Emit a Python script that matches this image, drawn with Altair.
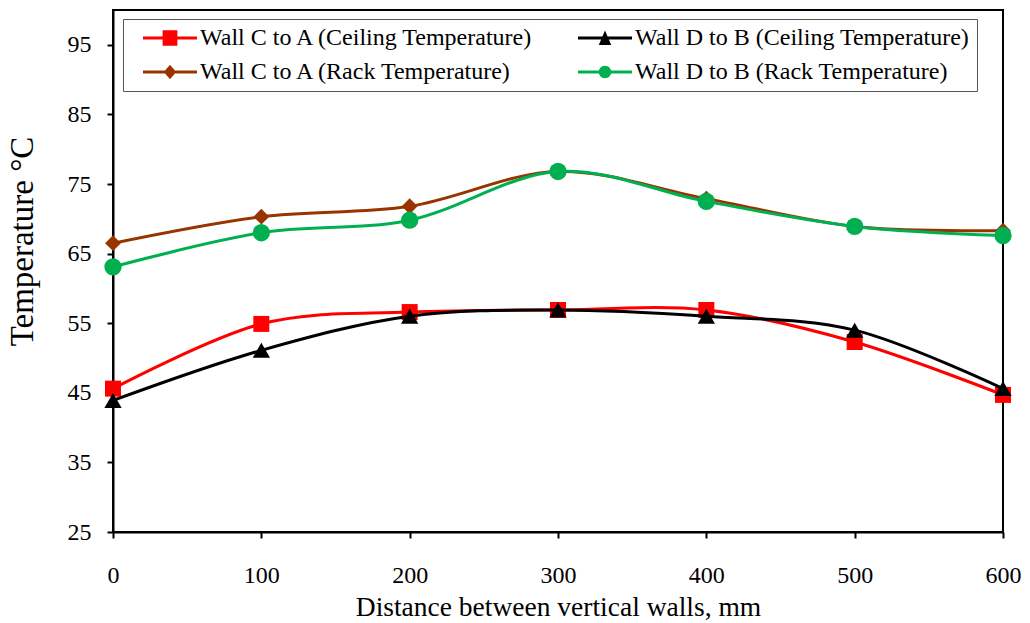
import altair as alt
import pandas as pd

# ---- data ----
distance = [0, 100, 200, 300, 400, 500, 600]
# legend fills column by column: C->A pair in column 1, D->B pair in column 2
series_names = [
    "Wall C to A (Ceiling Temperature)",
    "Wall C to A (Rack Temperature)",
    "Wall D to B (Ceiling Temperature)",
    "Wall D to B (Rack Temperature)",
]
c_to_a_ceiling = [45.6, 54.9, 56.6, 56.9, 56.9, 52.3, 44.7]
c_to_a_rack = [66.5, 70.3, 71.8, 76.8, 72.9, 68.9, 68.3]
d_to_b_ceiling = [43.9, 51.1, 56.0, 56.9, 56.0, 54.0, 45.6]
d_to_b_rack = [63.1, 68.0, 69.8, 76.8, 72.5, 68.9, 67.6]

series_colors = ["#FF0000", "#993300", "#000000", "#00B050"]
plot_shapes = ["square", "diamond", "triangle-up", "circle"]
plot_sizes = [256, 250, 300, 300]
draw_order = [0, 2, 1, 3]  # red, black, brown, green (green on top)
y_ticks = [25, 35, 45, 55, 65, 75, 85, 95]
x_ticks = [0, 100, 200, 300, 400, 500, 600]

# legend symbols: line segment + marker (unit = sqrt(size)/2)
LINE = "M0.11,-0.17H6.11V0.17H0.11Z "
legend_paths = [
    LINE + "M2.29,-0.85H3.93V0.85H2.29Z",
    LINE + "M3.11,-0.8L3.8,0L3.11,0.8L2.42,0Z",
    LINE + "M3.11,-0.82L3.8,0.78H2.42Z",
    LINE + "M3.8,0A0.69,0.69,0,1,1,2.42,0A0.69,0.69,0,1,1,3.8,0Z",
]

values = [c_to_a_ceiling, c_to_a_rack, d_to_b_ceiling, d_to_b_rack]
rows = []
for name, vals in zip(series_names, values):
    for d, v in zip(distance, vals):
        rows.append({"series": name, "distance": d, "temp": v})
df = pd.DataFrame(rows)

FONT = "Liberation Serif"

x_enc = alt.X(
    "distance:Q",
    scale=alt.Scale(domain=[0, 600], nice=False),
    axis=alt.Axis(
        values=x_ticks,
        title="Distance between vertical walls, mm",
        grid=False,
        tickSize=6,
        tickWidth=2,
        tickColor="black",
        domainColor="black",
        domainWidth=2,
        labelFont=FONT,
        labelFontSize=24,
        labelColor="black",
        labelPadding=25,
        labelFlush=False,
        titleFont=FONT,
        titleFontSize=27.5,
        titleFontWeight="normal",
        titleColor="black",
        titleBaseline="middle",
        titleY=75,
    ),
)
y_enc = alt.Y(
    "temp:Q",
    scale=alt.Scale(domain=[25, 100], nice=False, zero=False),
    axis=alt.Axis(
        values=y_ticks,
        title="Temperature °C",
        grid=False,
        tickSize=6,
        tickWidth=2,
        tickColor="black",
        domainColor="black",
        domainWidth=2,
        labelFont=FONT,
        labelFontSize=24,
        labelColor="black",
        labelPadding=16,
        titleFont=FONT,
        titleFontSize=33,
        titleFontWeight="normal",
        titleColor="black",
        titleBaseline="middle",
        titleX=-91,
        titleY=231,
    ),
)

layers = []
for i in draw_order:
    name, shp, sz, col = series_names[i], plot_shapes[i], plot_sizes[i], series_colors[i]
    base = alt.Chart(df).transform_filter(alt.datum.series == name)
    line = base.mark_line(interpolate="cardinal", strokeWidth=3, color=col).encode(
        x=x_enc, y=y_enc
    )
    pts = base.mark_point(shape=shp, size=sz, filled=True, opacity=1, color=col).encode(
        x=x_enc, y=y_enc
    )
    layers += [line, pts]

legend_props = dict(
    title=None,
    orient="none",
    legendX=10,
    legendY=9,
    columns=2,
    columnPadding=30,
    rowPadding=10,
    padding=7,
    strokeColor="#555555",
    fillColor="white",
    labelFont=FONT,
    labelFontSize=24,
    labelColor="black",
    labelLimit=0,
    labelOffset=46,
    symbolSize=324,
    symbolOpacity=1,
    symbolStrokeWidth=0,
)

legend_layer = alt.Chart(df).mark_point(filled=True, opacity=0).encode(
    x=x_enc,
    y=y_enc,
    color=alt.Color(
        "series:N",
        scale=alt.Scale(domain=series_names, range=series_colors),
        legend=alt.Legend(**legend_props),
    ),
    shape=alt.Shape(
        "series:N",
        scale=alt.Scale(domain=series_names, range=legend_paths),
        legend=alt.Legend(**legend_props),
    ),
)

chart = (
    alt.layer(*layers, legend_layer)
    .properties(
        width=890,
        height=522,
        autosize=alt.AutoSizeParams(type="none"),
        padding={"left": 113, "top": 10, "right": 27, "bottom": 91},
        background="white",
    )
    .configure_view(stroke="black", strokeWidth=2)
)

chart.save("out.html", embed_options={"renderer": "svg", "actions": False})
